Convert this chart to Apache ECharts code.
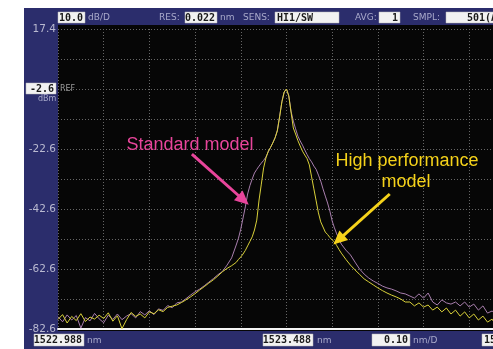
<!DOCTYPE html>
<html><head><meta charset="utf-8">
<script src="https://cdn.jsdelivr.net/npm/echarts@6/dist/echarts.min.js"></script>
<style>html,body{margin:0;padding:0;background:#fff;}#c{width:493px;height:349px;}</style>
</head><body><div id="c"></div>
<script>
// Wavelength samples (nm)
const wavelength = [
1522.988,1522.998,1523.008,1523.018,1523.028,1523.038,1523.048,1523.058,1523.068,1523.078,
1523.088,1523.098,1523.108,1523.118,1523.128,1523.138,1523.148,1523.158,1523.168,1523.178,
1523.188,1523.198,1523.208,1523.218,1523.228,1523.238,1523.248,1523.258,1523.268,1523.278,
1523.288,1523.298,1523.308,1523.318,1523.328,1523.338,1523.348,1523.358,1523.368,1523.378,
1523.383,1523.388,1523.393,1523.398,1523.403,1523.408,1523.413,1523.418,1523.423,1523.428,
1523.433,1523.438,1523.443,1523.448,1523.453,1523.458,1523.463,1523.468,1523.473,1523.478,
1523.483,1523.488,1523.493,1523.498,1523.503,1523.508,1523.513,1523.518,1523.523,1523.528,
1523.533,1523.538,1523.543,1523.548,1523.553,1523.558,1523.563,1523.568,1523.573,1523.578,
1523.583,1523.588,1523.593,1523.598,1523.603,1523.608,
1523.618,1523.628,1523.638,1523.648,1523.658,1523.668,1523.678,1523.688,1523.698,1523.708,
1523.718,1523.728,1523.738,1523.748,1523.758,1523.768,1523.778,1523.788,1523.798,1523.808,
1523.818,1523.828,1523.838,1523.848,1523.858,1523.868,1523.878,1523.888,1523.898,1523.908,
1523.918,1523.928,1523.938,1523.948
];
// Standard model (dBm)
const standardModel = [
-78.5,-80.2,-77.9,-79.6,-78.1,-82.3,-78.8,-79.9,-77.4,-79.2,
-80.5,-78.0,-79.4,-77.6,-79.5,-78.3,-77.5,-78.9,-76.8,-77.9,
-76.5,-77.8,-75.9,-76.4,-74.8,-75.5,-73.9,-73.6,-72.5,-71.3,
-70.2,-69.3,-68.2,-67.0,-65.8,-64.5,-63.4,-61.3,-58.9,-54.6,
-52.3,-49.3,-45.6,-41.9,-37.6,-34.8,-32.6,-30.6,-29.4,-28.3,
-27.3,-26.4,-25.3,-23.6,-22.1,-20.6,-18.9,-16.4,-11.7,-6.8,
-3.6,-2.6,-4.8,-10.0,-13.3,-15.9,-18.3,-19.9,-21.3,-22.9,
-24.4,-25.8,-26.9,-28.3,-29.4,-31.3,-33.3,-35.9,-38.3,-40.6,
-43.3,-46.6,-48.9,-50.9,-52.6,-54.3,
-56.3,-57.9,-60.3,-62.6,-64.3,-65.6,-66.6,-67.4,-68.3,-68.9,
-69.3,-69.9,-70.6,-70.9,-71.6,-72.3,-70.9,-72.3,-70.6,-73.6,
-74.6,-72.9,-73.9,-74.3,-73.6,-74.9,-73.6,-75.3,-74.3,-76.3,
-74.9,-77.3,-76.6,-77.9
];
// High performance model (dBm)
const highPerformance = [
-79.4,-77.8,-80.6,-78.4,-79.8,-77.5,-80.1,-78.6,-79.3,-78.0,
-79.1,-77.2,-80.0,-78.2,-82.5,-79.5,-77.1,-78.4,-77.6,-78.9,
-76.9,-77.5,-76.2,-76.8,-75.4,-75.0,-74.6,-73.8,-72.9,-71.9,
-70.8,-69.6,-68.5,-67.3,-66.2,-64.9,-63.5,-62.4,-61.5,-60.4,
-59.4,-58.6,-57.6,-56.4,-54.9,-53.4,-51.9,-49.6,-46.3,-39.6,
-34.3,-28.9,-25.6,-23.4,-22.1,-20.6,-18.9,-16.6,-11.9,-6.9,
-3.6,-2.6,-4.9,-10.3,-15.6,-17.6,-19.8,-21.6,-23.3,-24.6,
-25.8,-27.9,-31.9,-35.9,-39.9,-43.9,-46.9,-48.6,-50.3,-51.1,
-52.1,-52.9,-53.6,-54.8,-56.1,-57.3,
-59.4,-61.3,-62.9,-64.4,-65.9,-66.9,-67.9,-68.9,-69.8,-70.6,
-71.3,-71.9,-72.6,-73.6,-73.6,-74.9,-73.9,-75.3,-74.6,-76.3,
-75.3,-76.9,-75.6,-77.6,-76.3,-78.3,-76.9,-78.9,-77.6,-79.6,
-78.3,-80.3,-79.3,-81.9
];
const yTickLabels = ['17.4','-22.6','-42.6','-62.6','-82.6'];
const refLevel = '-2.6';
// Visible span: 1522.988 nm at the left edge, 0.1 nm/div; the screen is cut at ~1523.940 nm
const xMin = 1522.988, xMax = 1523.940, xStep = 0.1;
const yMin = -82.6, yMax = 17.4, yStep = 10;
// Annotation arrows: [start, end] in data units
const standardArrow = [[1523.281, -24.3], [1523.394, -39.6]];
const highPerfArrow = [[1523.714, -37.6], [1523.602, -52.9]];

const NAVY = '#2b2d6c', GREY = '#a9aacb', PINK = '#e8459b', GOLD = '#f5d21a';
const MONO = 'bold 10px "DejaVu Sans Mono"';
const SMALL = '9px "DejaVu Sans"';

function box(x, y, w, h, text, align) {
  return [
    {type:'rect', z:20, shape:{x:x, y:y, width:w, height:h}, style:{fill:'#f2f2f2', stroke:'#bbbbbb', lineWidth:0.5}},
    {type:'text', z:21, x: align === 'left' ? x + 2 : x + w - 2, y: y + h / 2 + 0.5,
      style:{text:text, fill:'#1a1a1a', font:MONO, align:align || 'right', verticalAlign:'middle', textAlign:align || 'right', textVerticalAlign:'middle'}}
  ];
}
function label(x, y, text, font, color) {
  return {type:'text', z:21, x:x, y:y, style:{text:text, fill:color || GREY, font:font || SMALL, align:'left', verticalAlign:'middle', textAlign:'left', textVerticalAlign:'middle'}};
}

const graphics = [
  {type:'rect', z:-20, shape:{x:24, y:8, width:470, height:341}, style:{fill:NAVY}},
  {type:'rect', z:-19, shape:{x:58, y:25, width:440, height:306}, style:{fill:'#060606'}},
  // top bar
  ...box(58, 12, 27, 11, '10.0'), label(88, 17.5, 'dB/D'),
  label(159, 17.5, 'RES:'), ...box(185, 12, 32, 11, '0.022'), label(220, 17.5, 'nm'),
  label(243, 17.5, 'SENS:'), ...box(275, 12, 64, 11, 'HI1/SW', 'left'),
  label(355, 17.5, 'AVG:'), ...box(379, 12, 21, 11, '1'),
  label(413, 17.5, 'SMPL:'), {type:'rect', z:20, shape:{x:446, y:12, width:60, height:11}, style:{fill:'#f2f2f2', stroke:'#bbbbbb', lineWidth:0.5}},
  {type:'text', z:21, x:467, y:18, style:{text:'501(AUTO)', fill:'#1a1a1a', font:MONO, align:'left', verticalAlign:'middle', textAlign:'left', textVerticalAlign:'middle'}},
  // reference level marker
  ...box(26, 83, 30, 11, refLevel), label(38, 99, 'dBm', '8px "DejaVu Sans"'), label(60, 89, 'REF', '8px "DejaVu Sans"', '#9a9a9a'),
  // bottom bar
  ...box(34, 334, 50, 12, '1522.988'), label(87, 340.5, 'nm'),
  ...box(263, 334, 50, 12, '1523.488'), label(317, 340.5, 'nm'),
  ...box(372, 334, 38, 12, '0.10'), label(413, 340.5, 'nm/D'),
  ...box(482, 334, 50, 12, '1523.988', 'left'),
  // annotations
  {type:'text', z:30, x:190, y:145, style:{text:'Standard model', fill:PINK, font:'18px "Liberation Sans"', align:'center', verticalAlign:'middle', textAlign:'center', textVerticalAlign:'middle'}},
  {type:'text', z:30, x:407, y:161, style:{text:'High performance', fill:GOLD, font:'18px "Liberation Sans"', align:'center', verticalAlign:'middle', textAlign:'center', textVerticalAlign:'middle'}},
  {type:'text', z:30, x:406, y:182, style:{text:'model', fill:GOLD, font:'18px "Liberation Sans"', align:'center', verticalAlign:'middle', textAlign:'center', textVerticalAlign:'middle'}}
];

const chart = echarts.init(document.getElementById('c'), null, {renderer:'canvas'});
const gridDots = {color:'#666666', width:1, type:[1, 2]};
chart.setOption({
  animation:false,
  backgroundColor:'#ffffff',
  graphic: graphics,
  grid:{left:58, top:29, right:0, height:300, containLabel:false},
  xAxis:{type:'value', min:xMin, max:xMax, interval:xStep,
    axisLabel:{show:false}, axisTick:{show:false},
    axisLine:{show:true, onZero:false, lineStyle:{color:'#f4f4f4', width:2}},
    splitLine:{show:true, lineStyle:gridDots}},
  yAxis:{type:'value', min:yMin, max:yMax, interval:yStep,
    axisLine:{show:false}, axisTick:{show:false},
    splitLine:{show:true, lineStyle:gridDots},
    axisLabel:{show:true, margin:2, color:'#b9b9d0', fontSize:10.5, fontFamily:'"DejaVu Sans"',
      formatter:function(v){ const s = (Math.round(v*10)/10).toFixed(1); return yTickLabels.indexOf(s) >= 0 ? s : ''; }}},
  series:[
    {name:'Standard model', type:'line', symbol:'none', silent:true,
      data: wavelength.map((w,i)=>[w, standardModel[i]]),
      lineStyle:{color:'#a97fae', width:1},
      markLine:{silent:true, symbol:['none','triangle'], symbolSize:[13,14], label:{show:false}, animation:false,
        data:[
          [{coord:standardArrow[0], lineStyle:{color:PINK, width:3, type:'solid'}, itemStyle:{color:PINK}}, {coord:standardArrow[1]}],
          [{coord:highPerfArrow[0], lineStyle:{color:GOLD, width:3, type:'solid'}, itemStyle:{color:GOLD}}, {coord:highPerfArrow[1]}]
        ]}},
    {name:'High performance model', type:'line', symbol:'none', silent:true,
      data: wavelength.map((w,i)=>[w, highPerformance[i]]),
      lineStyle:{color:'#d9d13a', width:1}}
  ]
});
</script></body></html>
